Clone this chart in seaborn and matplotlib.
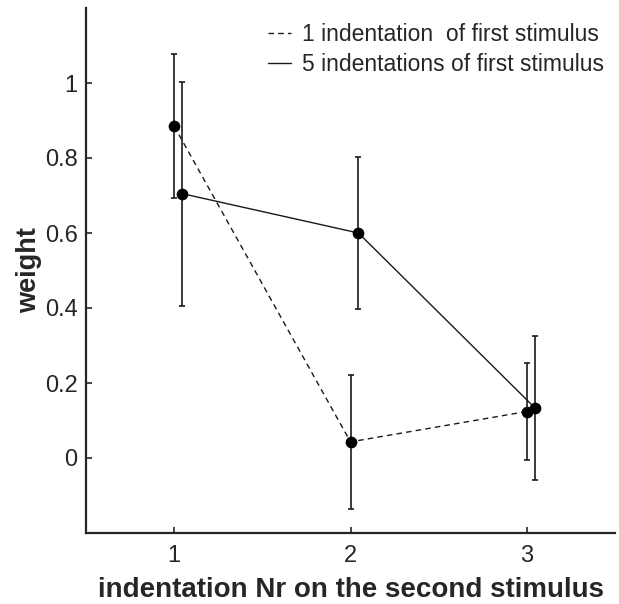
import matplotlib
matplotlib.use("Agg")
import matplotlib.pyplot as plt
import seaborn as sns
import pandas as pd
import numpy as np

# ---- data ----
positions = [1, 2, 3]
offsets = [0.0, 0.045]
series_labels = ["1 indentation  of first stimulus", "5 indentations of first stimulus"]
w_one = [0.885, 0.043, 0.124]
err_one = [0.192, 0.178, 0.129]
w_five = [0.705, 0.600, 0.134]
err_five = [0.299, 0.203, 0.192]
xticks = [1, 2, 3]
yticks = [0, 0.2, 0.4, 0.6, 0.8, 1]
ytick_labels = ["0", "0.2", "0.4", "0.6", "0.8", "1"]

sns.set_theme(style="white")
plt.rcParams["font.family"] = ["Liberation Sans", "DejaVu Sans"]
txt = "#262626"

rows = []
for lab, off, vals, errs in [(series_labels[0], offsets[0], w_one, err_one),
                             (series_labels[1], offsets[1], w_five, err_five)]:
    for p, v, e in zip(positions, vals, errs):
        rows.append({"x": p + off, "weight": v, "err": e, "series": lab})
df = pd.DataFrame(rows)

fig = plt.figure(figsize=(6.19, 6.04), dpi=100)
ax = fig.add_axes([86 / 619, (604 - 533) / 604, (615 - 86) / 619, (533 - 8) / 604])

for lab in series_labels:
    d = df[df.series == lab]
    ax.errorbar(d["x"], d["weight"], yerr=d["err"], fmt="none", ecolor="#1a1a1a",
                elinewidth=1.2, capsize=2.5, capthick=1.2, zorder=2)

sns.lineplot(data=df, x="x", y="weight", style="series", style_order=series_labels,
             dashes={series_labels[0]: (4, 3), series_labels[1]: ""},
             color="#1a1a1a", linewidth=1.0, markers=False, ax=ax, legend=True,
             sort=False, zorder=3)
ax.scatter(df["x"], df["weight"], s=55, color="black", zorder=4)

ax.set_xlim(0.5, 3.5)
ax.set_ylim(-0.2, 1.2)
ax.set_xticks(xticks)
ax.set_xticklabels([str(t) for t in xticks])
ax.set_yticks(yticks)
ax.set_yticklabels(ytick_labels)
ax.tick_params(axis="both", direction="in", length=4, width=1.2, colors=txt,
               labelsize=17, left=True, bottom=True)
ax.tick_params(axis="x", pad=9)
ax.tick_params(axis="y", pad=6)
for s in ["top", "right"]:
    ax.spines[s].set_visible(False)
for s in ["left", "bottom"]:
    ax.spines[s].set_color(txt)
    ax.spines[s].set_linewidth(1.6)

ax.set_xlabel("indentation Nr on the second stimulus", fontsize=20, fontweight="bold",
              color=txt, labelpad=7)
ax.set_ylabel("weight", fontsize=19.5, fontweight="bold", color=txt, labelpad=2)

leg = ax.legend(loc="upper right", bbox_to_anchor=(1.0, 0.993), frameon=False,
                fontsize=16.5, handlelength=1.0, handletextpad=0.45,
                labelspacing=0.3, borderaxespad=0.1)
for t in leg.get_texts():
    t.set_color(txt)

fig.savefig("out.png", dpi=100)
